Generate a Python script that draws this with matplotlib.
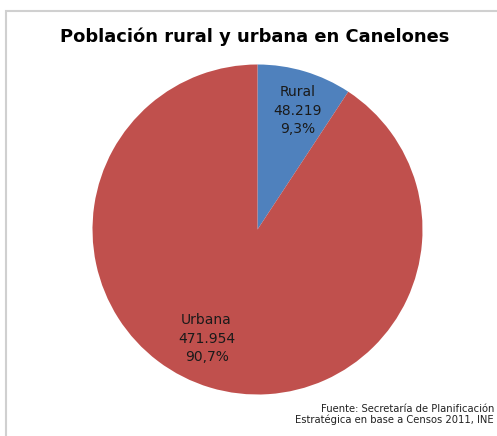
import numpy as np
import matplotlib
matplotlib.use("Agg")
from matplotlib import pyplot as plt
from matplotlib.patches import Rectangle

# Data
categories = ["Rural", "Urbana"]
values = [48219, 471954]
pct_labels = ["9,3%", "90,7%"]
value_labels = ["48.219", "471.954"]
colors = ["#4F81BD", "#C0504D"]
# label placement (best-fit style, degrees / fraction of radius)
label_angles = [71.5, 245.0]
label_dists = [0.76, 0.73]

W, H = 497, 436
fig = plt.figure(figsize=(W / 100, H / 100), dpi=100)

# Frame around the chart area
fig.patches.append(Rectangle((6 / W, -0.05), 1.1, 1 - 11 / H + 0.05,
                             transform=fig.transFigure, fill=False,
                             edgecolor="#d0d0d0", linewidth=1.5))

# Pie: center (257.5, 229.5) px, radius 165 px
cx, cy, r = 257.5, 229.5, 165
ax = fig.add_axes([(cx - r) / W, (H - cy - r) / H, 2 * r / W, 2 * r / H])

idx = iter(range(len(values)))


def fmt(_pct):
    i = next(idx)
    return f"{categories[i]}\n{value_labels[i]}\n{pct_labels[i]}"


wedges, texts, autotexts = ax.pie(values, colors=colors, startangle=90,
                                  counterclock=False, autopct=fmt,
                                  pctdistance=0.75, radius=1,
                                  wedgeprops=dict(linewidth=0),
                                  textprops=dict(fontsize=10, color="#1a1a1a",
                                                 linespacing=1.4))
for t, ang, d in zip(autotexts, label_angles, label_dists):
    a = np.deg2rad(ang)
    t.set_position((d * np.cos(a), d * np.sin(a)))

ax.set_xlim(-1, 1)
ax.set_ylim(-1, 1)
ax.set_aspect("equal")

fig.text(255 / W, 1 - 37 / H, "Población rural y urbana en Canelones",
         ha="center", va="center", fontsize=12.9, fontweight="bold")
fig.text(494 / W, 1 - 409 / H, "Fuente: Secretaría de Planificación",
         ha="right", va="center", fontsize=7.2, color="#222222")
fig.text(494 / W, 1 - 420 / H, "Estratégica en base a Censos 2011, INE",
         ha="right", va="center", fontsize=7.2, color="#222222")

fig.savefig("out.png", dpi=100)
